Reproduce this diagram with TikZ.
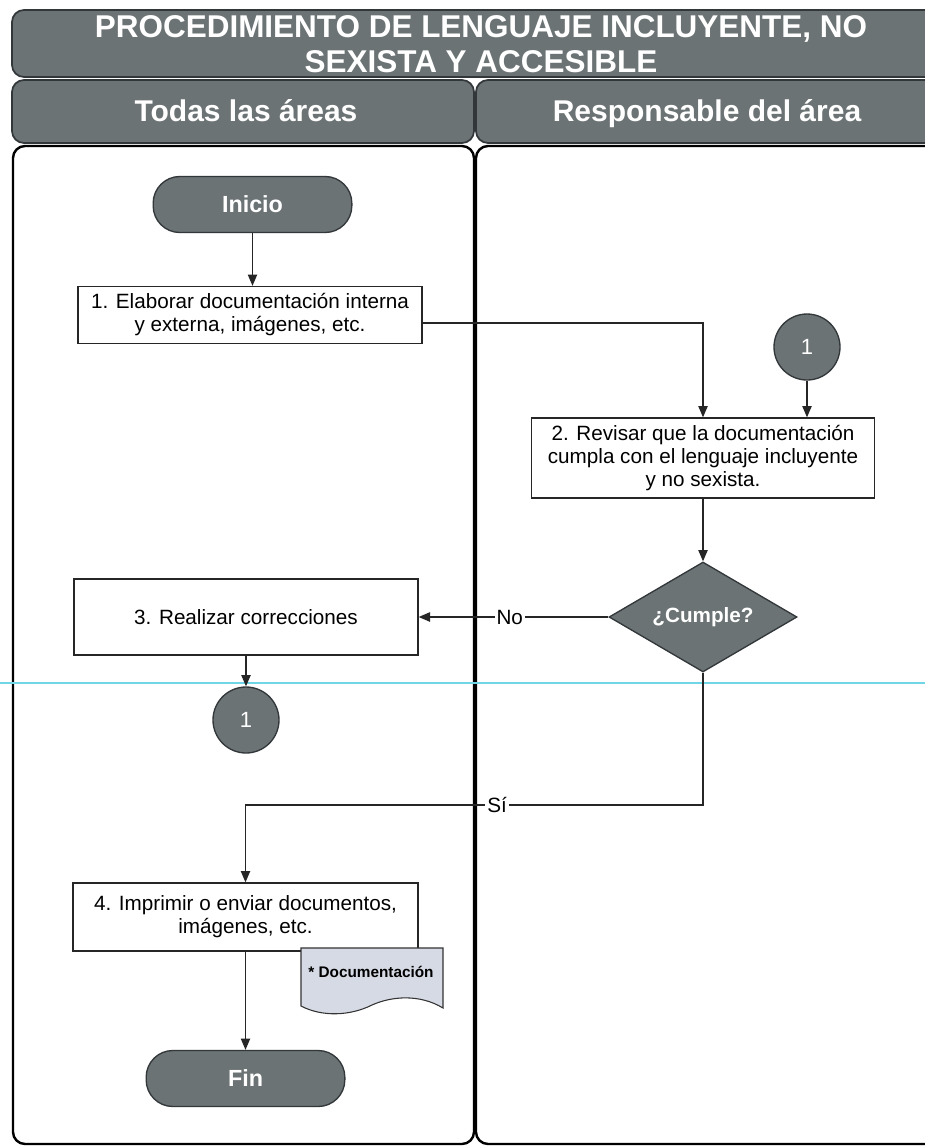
\documentclass[tikz,border=0pt]{standalone}
\usepackage{fontspec}
\setmainfont{Liberation Sans}
\usetikzlibrary{arrows.meta,shapes.geometric,calc}
\definecolor{shade}{RGB}{108,115,116}
\definecolor{shadeline}{RGB}{50,55,57}
\definecolor{docfill}{RGB}{213,218,228}
\definecolor{scanline}{RGB}{110,214,230}
\begin{document}
\begin{tikzpicture}[x=0.75pt,y=-0.75pt,
  bar/.style={fill=shade, draw=shadeline, line width=1.3pt, rounded corners=9pt},
  lane/.style={draw=black, line width=1.8pt, rounded corners=9pt},
  headtext/.style={text=white, font=\fontsize{22.5}{25}\selectfont\bfseries, inner sep=0pt},
  proc/.style={draw=black!85, line width=1pt, fill=white, align=center,
    font=\fontsize{15.5}{17.25}\selectfont, inner sep=0pt},
  term/.style={fill=shade, draw=shadeline, line width=1pt, rounded corners=20pt,
    text=white, font=\fontsize{17.5}{19}\selectfont\bfseries,
    minimum width=149pt, minimum height=42pt, inner sep=0pt},
  conn/.style={circle, fill=shade, draw=shadeline, line width=1pt,
    minimum size=49.5pt, inner sep=0pt, text=white, font=\fontsize{16.5}{18}\selectfont},
  decision/.style={diamond, aspect=1.7, fill=shade, draw=shadeline, line width=1pt,
    minimum width=141pt, minimum height=82.5pt, inner sep=0pt,
    text=white, font=\fontsize{15.5}{17}\selectfont\bfseries},
  arr/.style={-{Triangle[length=8.5pt,width=7pt]}, line width=1pt, draw=black!85},
  lbl/.style={fill=white, inner sep=1.5pt, font=\fontsize{15.5}{17}\selectfont}]

\useasboundingbox (0,0) rectangle (925,1147);
\fill[white] (0,0) rectangle (925,1147);

% title and lane headers
\draw[bar] (12,10) rectangle (970,77);
\draw[bar] (12,80) rectangle (474,143);
\draw[bar] (476,80) rectangle (970,143);
\node[headtext, align=center, font=\fontsize{23.6}{26.25}\selectfont\bfseries] (title) at (481,44)
  {PROCEDIMIENTO DE LENGUAJE INCLUYENTE, NO\\SEXISTA Y ACCESIBLE};
\node[headtext, anchor=base] (h1) at (246,121) {Todas las áreas};
\node[headtext, anchor=base] (h2) at (707,121) {Responsable del área};

% lanes
\draw[lane] (13,146) rectangle (474,1144);
\draw[lane] (476,146) rectangle (970,1144);

% scan artefact line
\draw[scanline, line width=0.8pt] (0,683) -- (925,683);

% nodes
\node[term] (inicio) at (252.5,204.5) {Inicio};
\node[proc, minimum width=258pt, minimum height=42.75pt] (b1) at (250,315)
  {1. Elaborar documentación interna\\y externa, imágenes, etc.};
\node[conn] (c1) at (807,347) {1};
\node[proc, minimum width=257.25pt, minimum height=60pt] (b2) at (703,458)
  {2. Revisar que la documentación\\cumpla con el lenguaje incluyente\\y no sexista.};
\node[decision] (d) at (703,617) {¿Cumple?};
\node[proc, minimum width=258pt, minimum height=57pt] (b3) at (246,617)
  {3. Realizar correcciones};
\node[conn] (c2) at (246,720) {1};
\node[proc, minimum width=258.75pt, minimum height=51pt] (b4) at (245.5,917)
  {4. Imprimir o enviar documentos,\\imágenes, etc.};
\node[term] (fin) at (245.5,1078.5) {Fin};

% document symbol
\draw[fill=docfill, draw=black!80, line width=0.8pt]
  (301,948) -- (443,948) -- (443,1008)
  .. controls (420,994) and (392,996) .. (372,1005)
  .. controls (350,1016) and (322,1017) .. (301,1006) -- cycle;
\node[inner sep=0pt, font=\fontsize{11.5}{13}\selectfont\bfseries] (doc) at (371,972) {* Documentación};

% connectors
\coordinate (ysi) at (0,805);
\draw[arr] (inicio.south) -- (inicio.south |- b1.north);
\draw[arr] ([yshift=-6pt]b1.east) -| (b2.north);
\draw[arr] (c1.south) -- (c1.south |- b2.north);
\draw[arr] (b2.south) -- (d.north);
\draw[arr] (d.west) -- node[lbl, pos=0.52] {No} (d.west -| b3.east);
\draw[arr] (b3.south) -- (c2.north);
\draw[arr] (d.south) -- (d.south |- ysi) -- node[lbl, pos=0.45] {Sí} (b4.north |- ysi) -- (b4.north);
\draw[arr] (b4.south) -- (fin.north);
\end{tikzpicture}
\end{document}
